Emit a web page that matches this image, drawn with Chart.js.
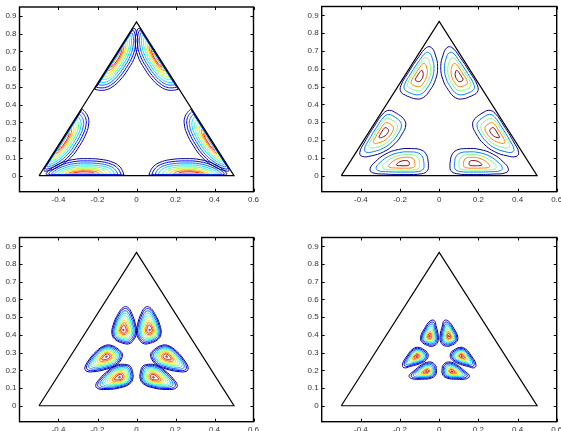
<!DOCTYPE html>
<html><head><meta charset="utf-8">
<script src="https://cdn.jsdelivr.net/npm/chart.js@4/dist/chart.umd.min.js"></script>
<style>
html,body{margin:0;padding:0;background:#fff;overflow:hidden;width:561px;height:431px;position:relative;}
canvas{position:absolute;}
</style></head><body>
<canvas id="c1" width="275" height="215" style="left:0;top:0"></canvas>
<canvas id="c2" width="280" height="215" style="left:281px;top:0"></canvas>
<canvas id="c3" width="275" height="215" style="left:0;top:230px"></canvas>
<canvas id="c4" width="280" height="215" style="left:281px;top:230px"></canvas>
<script>
// ---------- data ----------
const xTickVals = [-0.4, -0.2, 0, 0.2, 0.4, 0.6];
const yTickVals = [0, 0.1, 0.2, 0.3, 0.4, 0.5, 0.6, 0.7, 0.8, 0.9];
const triX = [-0.5, 0.5, 0, -0.5];
const triY = [0, 0, 0.866, 0];

// panel 1 (top-left): one lobe (bottom edge, right half), other five by symmetry
const p1OuterX = [0.064, 0.072, 0.090, 0.120, 0.170, 0.250, 0.330, 0.400, 0.445, 0.462, 0.420, 0.330, 0.220, 0.120];
const p1OuterY = [0.004, 0.028, 0.055, 0.075, 0.090, 0.096, 0.090, 0.065, 0.033, 0.008, 0.003, 0.003, 0.003, 0.003];
const p1Peak = [0.275, 0.012];
const p1LevelX = [1, 0.93, 0.85, 0.77, 0.68, 0.59, 0.50, 0.40, 0.29];
const p1LevelY = [1, 0.85, 0.71, 0.58, 0.46, 0.36, 0.27, 0.19, 0.12];

// panel 2 (top-right)
const p2OuterX = [0.055, 0.064, 0.089, 0.140, 0.208, 0.276, 0.327, 0.353, 0.341, 0.276, 0.174, 0.089, 0.059];
const p2OuterY = [0.068, 0.115, 0.143, 0.152, 0.147, 0.120, 0.077, 0.039, 0.017, 0.009, 0.007, 0.011, 0.030];
const p2Peak = [0.180, 0.068];
const p2LevelX = [1, 0.82, 0.64, 0.45, 0.22];
const p2LevelY = [1, 0.78, 0.60, 0.42, 0.20];

// panel 3 (bottom-left)
const p3OuterX = [0.020, 0.032, 0.061, 0.104, 0.146, 0.189, 0.209, 0.198, 0.155, 0.086, 0.035, 0.018];
const p3OuterY = [0.194, 0.223, 0.234, 0.228, 0.198, 0.152, 0.116, 0.097, 0.092, 0.101, 0.124, 0.157];
const p3Peak = [0.086, 0.161];
const p3LevelX = [1, 0.92, 0.82, 0.72, 0.62, 0.52, 0.42, 0.32, 0.22, 0.05];
const p3LevelY = [1, 0.92, 0.82, 0.72, 0.62, 0.52, 0.42, 0.32, 0.22, 0.05];

// panel 4 (bottom-right)
const p4OuterX = [0.016, 0.030, 0.055, 0.089, 0.132, 0.154, 0.140, 0.089, 0.038, 0.016];
const p4OuterY = [0.223, 0.241, 0.247, 0.232, 0.194, 0.170, 0.153, 0.150, 0.157, 0.180];
const p4Peak = [0.064, 0.194];
const p4LevelX = [1, 0.88, 0.76, 0.64, 0.52, 0.41, 0.30, 0.20, 0.06];
const p4LevelY = [1, 0.88, 0.76, 0.64, 0.52, 0.41, 0.30, 0.20, 0.06];

// ---------- styles ----------
const jet9 = ['#000094','#0000fa','#006bff','#00dbff','#4dffb3','#bdff42','#ffd100','#ff6100','#f00000'];
const jet5 = ['#00008f','#0080ff','#80ff80','#ff8000','#800000'];
const jet10 = jet9.concat(['#800000']);
const jet9b = ['#000094','#0000f0','#0070ff','#00e0ff','#70ffa0','#ffe800','#ff8000','#f00000','#800000'];

const CY = Math.sqrt(3) / 6; // centroid of triangle
const transforms = [];
[1, -1].forEach(m => [0, 2 * Math.PI / 3, -2 * Math.PI / 3].forEach(a => transforms.push({m, a})));

function buildDatasets(ox, oy, peak, lx, ly, colors) {
  const ds = [];
  for (let i = 0; i < lx.length; i++) {
    transforms.forEach(t => {
      const pts = ox.map((x, k) => {
        const px = peak[0] + lx[i] * (x - peak[0]);
        const py = peak[1] + ly[i] * (oy[k] - peak[1]);
        const mx = t.m * px, my = py - CY;
        const c = Math.cos(t.a), s = Math.sin(t.a);
        return {x: c * mx - s * my, y: s * mx + c * my + CY};
      });
      pts.push(pts[0]);
      ds.push({data: pts, showLine: true, borderColor: colors[i], borderWidth: 1,
        tension: 0.45, pointRadius: 0, pointHoverRadius: 0, fill: false, order: 2});
    });
  }
  ds.push({data: triX.map((x, k) => ({x, y: triY[k]})), showLine: true, borderColor: '#000',
    borderWidth: 1.2, tension: 0, pointRadius: 0, fill: false, order: 1});
  return ds;
}

const framePlugin = {
  id: 'frame',
  afterDraw(chart) {
    const {ctx, chartArea: a, scales} = chart;
    ctx.save();
    ctx.strokeStyle = '#000';
    ctx.lineWidth = 1;
    ctx.beginPath();
    xTickVals.forEach(v => {
      const p = Math.round(scales.x.getPixelForValue(v)) + 0.5;
      ctx.moveTo(p, a.bottom); ctx.lineTo(p, a.bottom - 3);
      ctx.moveTo(p, a.top); ctx.lineTo(p, a.top + 3);
    });
    yTickVals.forEach(v => {
      const p = Math.round(scales.y.getPixelForValue(v)) + 0.5;
      ctx.moveTo(a.left, p); ctx.lineTo(a.left + 3, p);
      ctx.moveTo(a.right, p); ctx.lineTo(a.right - 3, p);
    });
    ctx.stroke();
    ctx.lineWidth = 1.4;
    ctx.strokeRect(a.left, a.top, a.right - a.left, a.bottom - a.top);
    ctx.restore();
  }
};

function fmt(v) { return String(+Number(v).toFixed(1)); }

function makeChart(id, ds, yW, padR, padT, xH) {
  new Chart(document.getElementById(id), {
    type: 'scatter',
    data: {datasets: ds},
    options: {
      responsive: false, animation: false, events: [],
      layout: {padding: {left: 0, right: padR, top: padT, bottom: 0}},
      plugins: {legend: {display: false}, tooltip: {enabled: false}},
      scales: {
        x: {type: 'linear', min: -0.6, max: 0.6,
          grid: {display: false, drawTicks: false}, border: {display: false},
          afterBuildTicks: s => { s.ticks = xTickVals.map(v => ({value: v})); },
          afterFit: s => { s.height = xH; s.paddingLeft = 0; s.paddingRight = 0; },
          ticks: {padding: 3, maxRotation: 0, autoSkip: false, color: '#333',
            font: {family: 'Liberation Sans, Arial, sans-serif', size: 8}, callback: fmt}},
        y: {type: 'linear', min: -0.09, max: 0.95,
          grid: {display: false, drawTicks: false}, border: {display: false},
          afterBuildTicks: s => { s.ticks = yTickVals.map(v => ({value: v})); },
          afterFit: s => { s.width = yW; s.paddingTop = 0; s.paddingBottom = 0; },
          ticks: {padding: 3, autoSkip: false, color: '#333',
            font: {family: 'Liberation Sans, Arial, sans-serif', size: 8}, callback: fmt}}
      }
    },
    plugins: [framePlugin]
  });
}

makeChart('c1', buildDatasets(p1OuterX, p1OuterY, p1Peak, p1LevelX, p1LevelY, jet9), 19.5, 21.5, 7, 23.3);
makeChart('c2', buildDatasets(p2OuterX, p2OuterY, p2Peak, p2LevelX, p2LevelY, jet5), 40.7, 4.3, 6.5, 23.3);
makeChart('c3', buildDatasets(p3OuterX, p3OuterY, p3Peak, p3LevelX, p3LevelY, jet10), 19.5, 21.5, 7.5, 23.3);
makeChart('c4', buildDatasets(p4OuterX, p4OuterY, p4Peak, p4LevelX, p4LevelY, jet9b), 40.7, 4.3, 7.5, 23.3);
</script>
</body></html>
